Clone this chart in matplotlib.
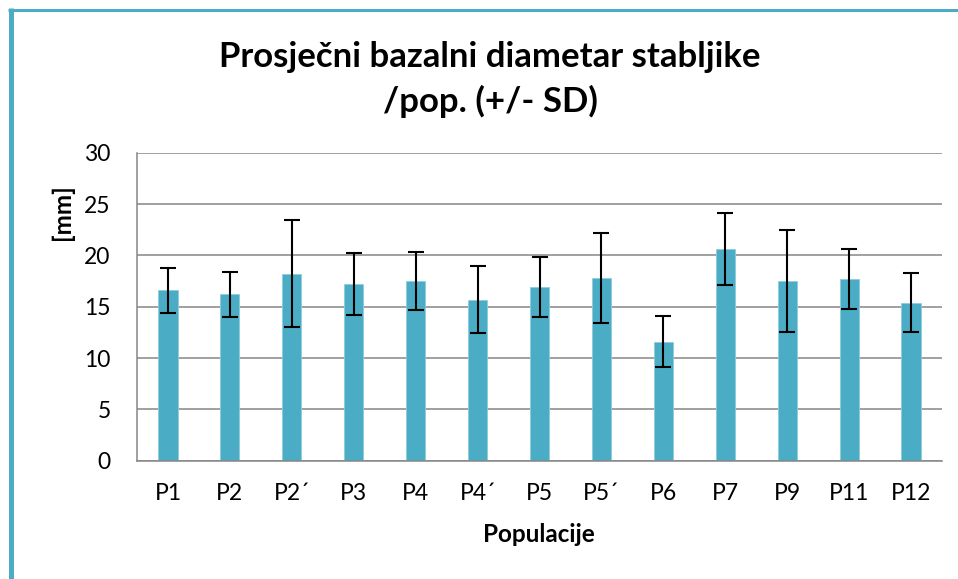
import matplotlib.pyplot as plt
from matplotlib.lines import Line2D
import numpy as np

plt.rcParams['font.family'] = ['Lato', 'DejaVu Sans']

# podaci
populacije = ['P1', 'P2', 'P2´', 'P3', 'P4', 'P4´', 'P5', 'P5´', 'P6', 'P7', 'P9', 'P11', 'P12']
prosjek = [16.6, 16.2, 18.2, 17.2, 17.5, 15.7, 16.9, 17.8, 11.6, 20.6, 17.5, 17.7, 15.4]
sd = [2.2, 2.2, 5.2, 3.0, 2.8, 3.3, 2.9, 4.4, 2.5, 3.5, 5.0, 2.9, 2.9]
y_ticks = [0, 5, 10, 15, 20, 25, 30]

W, H = 958, 579
fig = plt.figure(figsize=(W / 100, H / 100), dpi=100)
ax = fig.add_axes([137 / W, 1 - 460.7 / H, (942 - 137) / W, (460.7 - 152.7) / H])

x = np.arange(len(populacije))
ax.bar(x, prosjek, width=0.31, color='#4BACC6', edgecolor='#8FCCDD', linewidth=0.6, zorder=2)
ax.errorbar(x, prosjek, yerr=sd, fmt='none', ecolor='black', elinewidth=1.5,
            capsize=6, capthick=1.5, zorder=3)

ax.set_xlim(-0.5, len(populacije) - 0.5)
ax.set_ylim(0, 30)
ax.set_yticks(y_ticks)
ax.set_xticks(x)
ax.set_xticklabels(populacije)
ax.tick_params(axis='both', length=0, labelsize=16.5, colors='black')
ax.tick_params(axis='y', pad=19)
ax.tick_params(axis='x', pad=16)
ax.yaxis.grid(True, color='#868686', linewidth=1.1, zorder=0)
ax.set_axisbelow(True)
for s in ['top', 'right']:
    ax.spines[s].set_visible(False)
for s in ['left', 'bottom']:
    ax.spines[s].set_color('#868686')
    ax.spines[s].set_linewidth(1.1)

fig.text(490 / W, 1 - 57 / H, 'Prosječni bazalni diametar stabljike', ha='center', va='center',
         fontsize=25, fontweight='bold')
fig.text(490 / W, 1 - 101 / H, '/pop. (+/- SD)', ha='center', va='center',
         fontsize=25, fontweight='bold')
fig.text(62 / W, 1 - 212 / H, '[mm]', rotation=90, ha='center', va='center',
         fontsize=17.5, fontweight='bold')
fig.text(539 / W, 1 - 535 / H, 'Populacije', ha='center', va='center',
         fontsize=17.5, fontweight='bold')

# okvir grafikona
fig.add_artist(Line2D([10.5 / W, 10.5 / W], [0, 1 - 8 / H], transform=fig.transFigure,
                      color='#4BACC6', linewidth=3.6, solid_capstyle='butt'))
fig.add_artist(Line2D([8 / W, 1], [1 - 9.5 / H, 1 - 9.5 / H], transform=fig.transFigure,
                      color='#4BACC6', linewidth=2.2, solid_capstyle='butt'))

fig.savefig('out.png', dpi=100)
